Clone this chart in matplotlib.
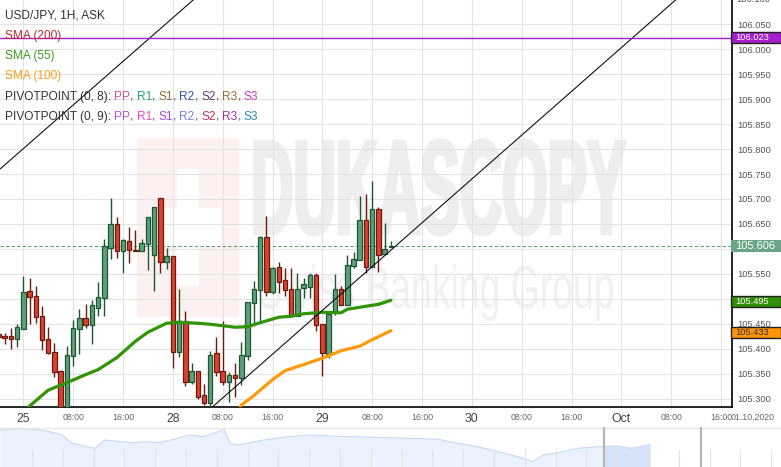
import numpy as np
import matplotlib
matplotlib.use('Agg')
import matplotlib.pyplot as plt
from matplotlib.patches import Rectangle, PathPatch
from matplotlib.textpath import TextPath
from matplotlib.font_manager import FontProperties
from matplotlib.transforms import Affine2D, blended_transform_factory

plt.rcParams['font.family'] = ['Liberation Sans', 'DejaVu Sans']

W, H = 781, 467          # output size in pixels
PLOT_R, PLOT_B = 732, 407  # right / bottom edge of the price panel (px)

# --- hourly candles, index 0 = 25 Sep 00:00 (weekend hours are skipped) ---
hours = list(range(-4, 60))
opens = [105.429, 105.426, 105.426, 105.420, 105.440, 105.516, 105.506, 105.466,
         105.420, 105.394, 105.356, 105.249, 105.385, 105.440, 105.462, 105.448,
         105.482, 105.501, 105.602, 105.650, 105.596, 105.616, 105.598, 105.596,
         105.610, 105.588, 105.702, 105.574, 105.586, 105.394, 105.456, 105.334,
         105.356, 105.308, 105.291, 105.392, 105.356, 105.334, 105.348, 105.342,
         105.386, 105.492, 105.518, 105.624, 105.514, 105.564, 105.538, 105.520,
         105.466, 105.522, 105.524, 105.548, 105.450, 105.390, 105.476, 105.520,
         105.488, 105.566, 105.578, 105.658, 105.564, 105.680, 105.590, 105.604]
highs = [105.435, 105.431, 105.441, 105.450, 105.546, 105.541, 105.526, 105.486,
         105.443, 105.412, 105.358, 105.406, 105.457, 105.479, 105.489, 105.497,
         105.534, 105.619, 105.702, 105.664, 105.620, 105.643, 105.638, 105.620,
         105.664, 105.684, 105.702, 105.602, 105.586, 105.520, 105.476, 105.372,
         105.356, 105.330, 105.396, 105.424, 105.455, 105.354, 105.372, 105.414,
         105.494, 105.536, 105.626, 105.666, 105.564, 105.574, 105.562, 105.562,
         105.552, 105.542, 105.552, 105.552, 105.450, 105.470, 105.550, 105.526,
         105.588, 105.594, 105.706, 105.710, 105.736, 105.684, 105.652, 105.616]
lows = [105.417, 105.410, 105.399, 105.403, 105.440, 105.449, 105.451, 105.398,
        105.390, 105.344, 105.235, 105.235, 105.365, 105.389, 105.441, 105.410,
        105.465, 105.465, 105.580, 105.581, 105.551, 105.572, 105.595, 105.596,
        105.557, 105.515, 105.551, 105.559, 105.362, 105.383, 105.326, 105.330,
        105.300, 105.288, 105.282, 105.346, 105.328, 105.294, 105.304, 105.328,
        105.378, 105.450, 105.456, 105.506, 105.510, 105.512, 105.506, 105.466,
        105.466, 105.502, 105.502, 105.436, 105.346, 105.382, 105.468, 105.488,
        105.488, 105.562, 105.578, 105.552, 105.564, 105.554, 105.590, 105.604]
closes = [105.423, 105.421, 105.420, 105.444, 105.514, 105.504, 105.464, 105.418,
          105.392, 105.354, 105.259, 105.388, 105.442, 105.462, 105.448, 105.488,
          105.504, 105.605, 105.650, 105.596, 105.618, 105.598, 105.595, 105.612,
          105.664, 105.684, 105.574, 105.586, 105.394, 105.456, 105.334, 105.356,
          105.304, 105.291, 105.388, 105.354, 105.334, 105.348, 105.342, 105.388,
          105.494, 105.520, 105.624, 105.514, 105.562, 105.534, 105.518, 105.466,
          105.520, 105.530, 105.548, 105.448, 105.392, 105.470, 105.520, 105.488,
          105.568, 105.580, 105.658, 105.564, 105.680, 105.588, 105.600, 105.606]

# moving averages
sma55_h = [0, 1, 4, 7, 10, 12, 15, 18, 20, 23, 25, 28, 30, 34, 36, 38, 41, 43,
           45, 48, 51, 52, 55, 57, 59]
sma55_p = [105.270, 105.285, 105.317, 105.332, 105.348, 105.358, 105.382, 105.415,
           105.433, 105.451, 105.453, 105.451, 105.449, 105.443, 105.444, 105.452,
           105.463, 105.465, 105.470, 105.473, 105.472, 105.479, 105.485, 105.489,
           105.497]
sma100_h = [34, 35, 37, 40, 42, 44, 48, 51, 54, 56, 59]
sma100_p = [105.262, 105.287, 105.306, 105.338, 105.356, 105.364, 105.381, 105.396,
            105.405, 105.418, 105.436]

# trend channel (two points per line)
trend_a_h, trend_a_p = [3.5, 27.3], [105.839, 106.099]
trend_b_h, trend_b_p = [34.8, 63.7], [105.332, 105.649]

level_purple = 106.023
last_price = 105.606
sma55_last, sma100_last = 105.495, 105.433

tick_hours = [0, 8, 16, 24, 32, 40, 48, 56, 64, 72, 80, 88, 96, 104, 112]
tick_labels = ['25', '08:00', '16:00', '28', '08:00', '16:00', '29', '08:00', '16:00',
               '30', '08:00', '16:00', 'Oct', '08:00', '16:00']
price_ticks = [105.30, 105.35, 105.40, 105.45, 105.50, 105.55, 105.60, 105.65,
               105.70, 105.75, 105.80, 105.85, 105.90, 105.95, 106.00, 106.05]
hidden_price_labels = [105.50, 105.60]   # covered by the price tags

# navigator (overview strip) profile
nav_pos = [0, 20, 35, 50, 62, 72, 87, 95, 105, 120, 134, 144, 159, 174, 189, 204,
           214, 224, 230, 239, 249, 264, 284, 309, 329, 349, 378, 408, 438, 458,
           478, 498, 518, 533, 543, 558, 578, 598, 617, 632, 650]
nav_val = [37, 38.7, 37.7, 35.3, 32, 23.7, 20.3, 18.7, 27, 25.3, 24.3, 25.3, 24.3,
           27.7, 32, 30.3, 33.7, 37.7, 23.7, 22, 24.3, 27, 29.7, 32, 31, 30.3, 29.7,
           28.7, 27.7, 23.7, 20.3, 15.3, 10.3, 5.3, 12, 14.3, 18.7, 20.3, 21, 18.7,
           22.7]

GREEN_FILL, GREEN_EDGE = '#5f9f7b', '#1d5631'
RED_FILL, RED_EDGE = '#d9432e', '#6a1a10'

fig = plt.figure(figsize=(W / 100, H / 100), dpi=100)

# background layer (pixel coords) for the watermark
bg = fig.add_axes([0, 0, 1, 1], zorder=0)
bg.set_xlim(0, W)
bg.set_ylim(H, 0)
bg.axis('off')


def fit_text(txt, box, weight, color, stroke=0):
    x0, x1, y0, y1 = box
    tp = TextPath((0, 0), txt, size=100,
                  prop=FontProperties(family='Liberation Sans', weight=weight))
    bb = tp.get_extents()
    tr = (Affine2D().translate(-bb.x0, -bb.y0)
          .scale((x1 - x0) / bb.width, -(y1 - y0) / bb.height)
          .translate(x0, y1))
    bg.add_patch(PathPatch(tr.transform_path(tp), facecolor=color,
                           edgecolor=color if stroke else 'none', lw=stroke,
                           joinstyle='miter'))


bg.add_patch(Rectangle((137, 138), 102, 179, facecolor='#fdf0f0', lw=0))
bg.add_patch(Rectangle((177, 169), 22, 117, facecolor='white', lw=0))
bg.add_patch(Rectangle((163, 208), 58, 38, facecolor='white', lw=0))
fit_text('DUKASCOPY', (255, 625, 140, 235), 'bold', '#eeeeee', stroke=2.5)
fit_text('Swiss Banking Group', (259, 613, 264, 321), 'normal', '#f1f1f1')

# price panel
ax = fig.add_axes([0, 1 - PLOT_B / H, PLOT_R / W, PLOT_B / H], zorder=1)
ax.patch.set_alpha(0)
ax.set_xlim(-3.74, 113.75)
ax.set_ylim(105.2832, 106.0986)

h = np.array(hours)
o, hi, lo, c = map(np.array, (opens, highs, lows, closes))
up = c >= o
body_bot = np.minimum(o, c)
body_h = np.maximum(np.abs(c - o), 0.0014)
for mask, fill, edge in ((up, GREEN_FILL, GREEN_EDGE), (~up, RED_FILL, RED_EDGE)):
    ax.vlines(h[mask], lo[mask], hi[mask], color=edge, lw=1, zorder=3)
    ax.bar(h[mask], body_h[mask], bottom=body_bot[mask], width=0.72, color=fill,
           edgecolor=edge, linewidth=0.9, zorder=4)

ax.plot(sma55_h, sma55_p, color='#2f9406', lw=2.3, zorder=5, solid_capstyle='round')
ax.plot(sma100_h, sma100_p, color='#ff9a0a', lw=2.3, zorder=5, solid_capstyle='round')
ax.axline((trend_a_h[0], trend_a_p[0]), (trend_a_h[1], trend_a_p[1]), color='#111111',
          lw=0.8, zorder=6)
ax.axline((trend_b_h[0], trend_b_p[0]), (trend_b_h[1], trend_b_p[1]), color='#111111',
          lw=0.8, zorder=6)
ax.axhline(level_purple, color='#a51fcf', lw=1, zorder=6)
ax.axhline(last_price, color='#5f9f7b', lw=0.8, ls=(0, (3, 2)), zorder=2)

ax.set_xticks(tick_hours)
ax.set_xticklabels(tick_labels)
for lbl, txt in zip(ax.get_xticklabels(), tick_labels):
    if ':' in txt:
        lbl.set_fontsize(6.3)
        lbl.set_color('#666666')
    else:
        lbl.set_fontsize(8.8)
        lbl.set_color('#444444')
ax.yaxis.tick_right()
ax.set_yticks(price_ticks)
ax.set_yticklabels(['' if v in hidden_price_labels else f'{v:.3f}' for v in price_ticks])
ax.tick_params(axis='y', length=0, pad=3.5, labelsize=6.7, labelcolor='#555555')
ax.tick_params(axis='x', length=0, pad=4)
ax.grid(color='#e3e3e3', lw=0.8, zorder=0)
ax.set_axisbelow(True)
for side in ('top', 'left'):
    ax.spines[side].set_visible(False)
for side in ('right', 'bottom'):
    ax.spines[side].set_color('black')
    ax.spines[side].set_linewidth(1.2)

# navigator strip
nav_top = 427
nav = fig.add_axes([0, 0, 1, (H - nav_top) / H], zorder=2)
nav.set_xlim(0, W)
nav.set_ylim(0, H - nav_top)
nav.axis('off')
nav.fill_between(nav_pos, nav_val, 0, color='#ebf2fd', lw=0)
hl = nav.fill_between(nav_pos, nav_val, 0, color='#d6e4fa', lw=0)
hl.set_clip_path(Rectangle((604, 0), 47, 40, transform=nav.transData))
nav.plot(nav_pos, nav_val, color='#c5d8f4', lw=0.8)
for xv in np.arange(32, W, 30.8):
    nav.vlines(xv, 0, 18, color='#e2e2e2', lw=0.8)
nav.axhline(H - nav_top - 0.5, color='#e8e8e8', lw=1)
nav.axvline(604, color='#b5b5b5', lw=1.6)
nav.axvline(701, color='#b5b5b5', lw=1.6)

# foreground layer: legend, price tags
fg = fig.add_axes([0, 0, 1, 1], zorder=3)
fg.set_xlim(0, W)
fg.set_ylim(H, 0)
fg.axis('off')
fg.patch.set_alpha(0)

renderer = fig.canvas.get_renderer()
LEG_SIZE = 8.6


def text_w(s):
    t = fg.text(0, 0, s, fontsize=LEG_SIZE)
    w = t.get_window_extent(renderer=renderer).width
    t.remove()
    return w


space = text_w('a a') - text_w('aa')

pp8 = [('PP', '#d4548f'), ('R1', '#1fa57a'), ('S1', '#8f6d33'), ('R2', '#3451a3'),
       ('S2', '#5a3a6a'), ('R3', '#9c6b33'), ('S3', '#d43bd4')]
pp9 = [('PP', '#c14fe0'), ('R1', '#f548c9'), ('S1', '#a54bd6'), ('R2', '#7a7ae6'),
       ('S2', '#c2335f'), ('R3', '#9b32b5'), ('S3', '#2a8fb0')]


def pivot_row(head, items):
    segs = [(head, '#333333', True)]
    for i, (name, col) in enumerate(items):
        segs.append((name, col, False))
        if i < len(items) - 1:
            segs.append((',', '#333333', True))
    return segs


rows = [
    (15.7, [('USD/JPY, 1H, ASK', '#333333', False)]),
    (35.7, [('SMA (200)', '#c0282d', False)]),
    (55.7, [('SMA (55)', '#3c9b1e', False)]),
    (76.0, [('SMA (100)', '#ff9a1a', False)]),
    (96.7, pivot_row('PIVOTPOINT (0, 8):', pp8)),
    (116.7, pivot_row('PIVOTPOINT (0, 9):', pp9)),
]
for y, segs in rows:
    x = 5
    for s, col, gap in segs:
        t = fg.text(x, y, s, color=col, fontsize=LEG_SIZE, va='center', ha='left')
        x += t.get_window_extent(renderer=renderer).width + (space if gap else 0)

# price tags on the right axis
px_y = blended_transform_factory(fg.transData, ax.transData)
tags = [(level_purple, '#a51fcf', 'white', '#222222', 0.0225, 6.7),
        (last_price, '#6aa686', 'white', 'none', 0.0235, 8.0),
        (sma55_last, '#2f8f05', 'white', '#222222', 0.0215, 6.7),
        (sma100_last, '#ff9408', '#333333', '#222222', 0.0225, 6.7)]
for val, face, tcol, ecol, hgt, fs in tags:
    fg.add_patch(Rectangle((731, val - hgt / 2), 49.5, hgt, transform=px_y,
                           facecolor=face, edgecolor=ecol, lw=1, clip_on=False))
    fg.text(735, val, f'{val:.3f}', transform=px_y, color=tcol, fontsize=fs,
            va='center', ha='left', clip_on=False)

fg.text(736, 106.100, '106.100', transform=px_y, color='#555555', fontsize=6.7,
        va='center', ha='left', clip_on=False)
fg.text(731, 417, '01.10.2020', color='#666666', fontsize=6.3, va='center', ha='left')

fig.savefig('out.png', dpi=100)
